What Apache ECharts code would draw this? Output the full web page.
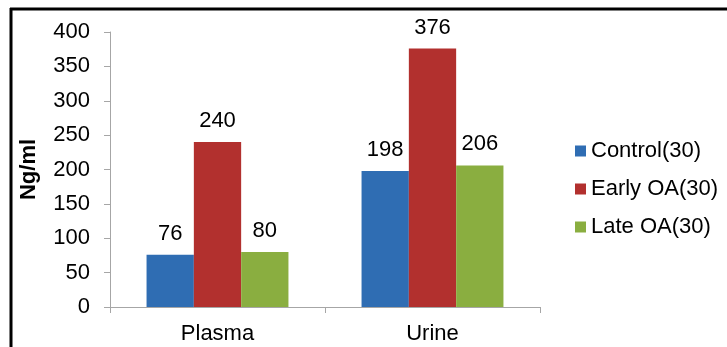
<!DOCTYPE html>
<html>
<head>
<meta charset="utf-8">
<script src="https://cdn.jsdelivr.net/npm/echarts@6/dist/echarts.min.js"></script>
<style>html,body{margin:0;padding:0;background:#fff;}#c{width:727px;height:347px;}</style>
</head>
<body>
<div id="c"></div>
<script>
const categories = ['Plasma', 'Urine'];
const seriesNames = ['Control(30)', 'Early OA(30)', 'Late OA(30)'];
const controlValues = [76, 198];
const earlyOAValues = [240, 376];
const lateOAValues = [80, 206];
const yTicks = [0, 50, 100, 150, 200, 250, 300, 350, 400];
const colors = ['#2F6DB3', '#B2302E', '#8AAE40'];

const chart = echarts.init(document.getElementById('c'));
const font = 'Liberation Sans, Arial, sans-serif';
const allValues = [controlValues, earlyOAValues, lateOAValues];
chart.setOption({
  animation: false,
  textStyle: { fontFamily: font },
  graphic: [
    { type: 'line', shape: { x1: 10, y1: 9, x2: 727, y2: 9 }, style: { stroke: '#000', lineWidth: 3 } },
    { type: 'line', shape: { x1: 11, y1: 8, x2: 11, y2: 347 }, style: { stroke: '#000', lineWidth: 3 } }
  ],
  grid: { left: 110, right: 187, top: 32, bottom: 40 },
  legend: {
    orient: 'vertical', left: 570, top: 135,
    itemWidth: 11, itemHeight: 11, itemGap: 16,
    icon: 'rect',
    textStyle: { fontSize: 22, color: '#000', fontFamily: font, lineHeight: 22 },
    data: seriesNames
  },
  xAxis: {
    type: 'category', data: categories,
    axisLine: { lineStyle: { color: '#A6A6A6', width: 1 } },
    axisTick: { show: true, length: 6, lineStyle: { color: '#A6A6A6' } },
    axisLabel: { fontSize: 22, color: '#000', margin: 16, fontFamily: font }
  },
  yAxis: {
    type: 'value', min: yTicks[0], max: yTicks[yTicks.length - 1], interval: 50,
    name: 'Ng/ml', nameLocation: 'middle', nameGap: 70,
    nameTextStyle: { fontSize: 22, fontWeight: 'bold', color: '#000', fontFamily: font },
    axisLine: { show: true, lineStyle: { color: '#A6A6A6', width: 1 } },
    axisTick: { show: true, length: 6, lineStyle: { color: '#A6A6A6' } },
    splitLine: { show: false },
    axisLabel: { fontSize: 22, color: '#000', margin: 20, fontFamily: font }
  },
  series: seriesNames.map((n, i) => ({
    name: n, type: 'bar', data: allValues[i],
    barGap: '0%', barCategoryGap: '34%',
    itemStyle: { color: colors[i] },
    label: { show: true, position: 'top', distance: 10, fontSize: 22, color: '#000', fontFamily: font }
  }))
});
</script>
</body>
</html>
